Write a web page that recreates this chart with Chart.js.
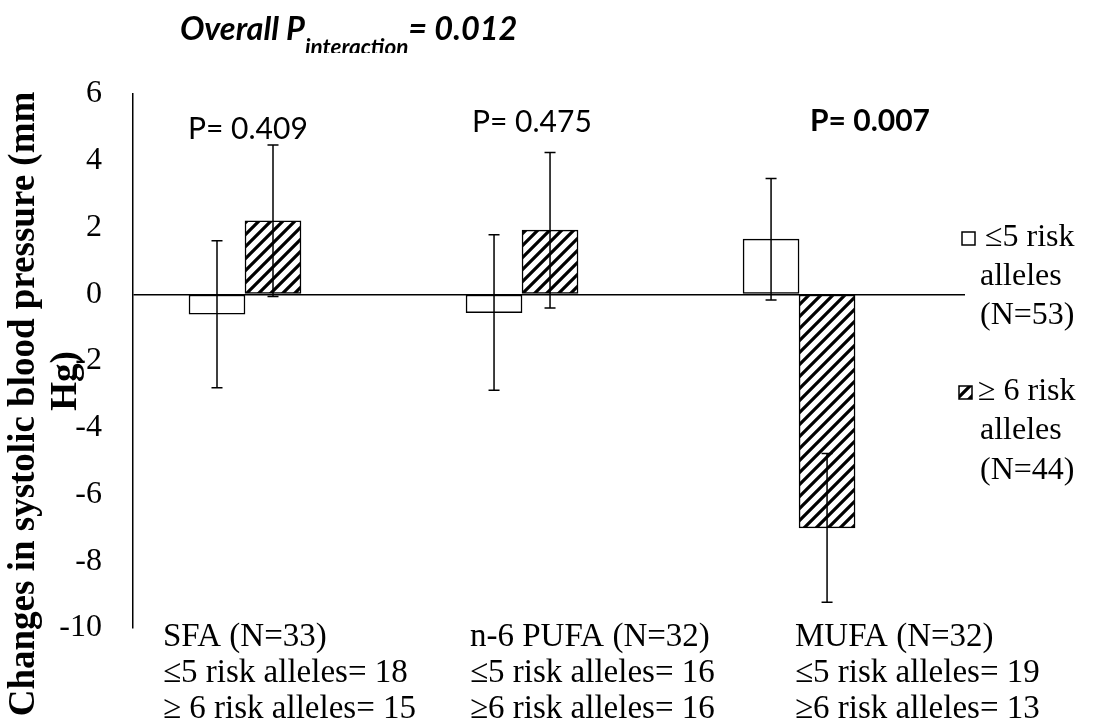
<!DOCTYPE html>
<html><head><meta charset="utf-8">
<script src="https://cdn.jsdelivr.net/npm/chart.js@4.4.1/dist/chart.umd.min.js"></script>
<style>html,body{margin:0;padding:0;background:#fff;overflow:hidden}#wrap{width:1097px;height:724px;position:relative}</style>
</head><body><div id="wrap"><canvas id="c" width="1097" height="724"></canvas></div>
<script>
// ---- data ----
const categories = ['SFA (N=33)', 'n-6 PUFA (N=32)', 'MUFA (N=32)'];
const subLabelsLow = ['≤5 risk alleles= 18', '≤5 risk alleles= 16', '≤5 risk alleles= 19'];
const subLabelsHigh = ['≥ 6 risk alleles= 15', '≥6 risk alleles= 16', '≥6 risk alleles= 13'];
const lowRisk = [-0.6, -0.55, 1.65];
const lowRiskErr = [2.2, 2.33, 1.82];
const highRisk = [2.2, 1.92, -7.0];
const highRiskErr = [2.27, 2.33, 2.23];
const pValues = ['P= 0.409', 'P= 0.475', 'P= 0.007'];
const pBold = [false, false, true];
const yTicks = [6, 4, 2, 0, -2, -4, -6, -8, -10];
const legendLow = ['≤5 risk', 'alleles', '(N=53)'];
const legendHigh = ['≥ 6 risk', 'alleles', '(N=44)'];
const yTitleLines = ['Changes in systolic blood pressure (mm', 'Hg)'];
const titleMain = 'Overall P', titleSub = 'interaction', titleEnd = '= 0.012';

const SERIF = '"Liberation Serif", "Times New Roman", serif';
const SANS = 'Lato, "Liberation Sans", sans-serif';

function makePattern(ctx) {
  const pc = document.createElement('canvas');
  pc.width = 12; pc.height = 12;
  const p = pc.getContext('2d');
  p.fillStyle = '#fff'; p.fillRect(0, 0, 12, 12);
  p.strokeStyle = '#000'; p.lineWidth = 3.2;
  p.beginPath();
  p.moveTo(-2, 14); p.lineTo(14, -2);
  p.moveTo(-2, 2); p.lineTo(2, -2);
  p.moveTo(10, 14); p.lineTo(14, 10);
  p.stroke();
  return ctx.createPattern(pc, 'repeat');
}

const errorBars = {
  id: 'errorBars',
  afterDatasetsDraw(chart) {
    const ctx = chart.ctx, ys = chart.scales.y;
    const errs = [lowRiskErr, highRiskErr];
    const vals = [lowRisk, highRisk];
    ctx.save();
    ctx.strokeStyle = '#000'; ctx.lineWidth = 1.5;
    chart.data.datasets.forEach((ds, di) => {
      const meta = chart.getDatasetMeta(di);
      meta.data.forEach((bar, i) => {
        const v = vals[di][i], e = errs[di][i];
        const yt = ys.getPixelForValue(v + e), yb = ys.getPixelForValue(v - e);
        ctx.beginPath();
        ctx.moveTo(bar.x, yt); ctx.lineTo(bar.x, yb);
        ctx.moveTo(bar.x - 5.5, yt); ctx.lineTo(bar.x + 5.5, yt);
        ctx.moveTo(bar.x - 5.5, yb); ctx.lineTo(bar.x + 5.5, yb);
        ctx.stroke();
      });
    });
    ctx.restore();
  }
};

const annotations = {
  id: 'annotations',
  afterDraw(chart) {
    const ctx = chart.ctx;
    ctx.save();
    ctx.fillStyle = '#000';
    // title
    ctx.textBaseline = 'alphabetic'; ctx.textAlign = 'left';
    let x = 180;
    ctx.font = 'italic bold 32.5px ' + SANS;
    ctx.fillText(titleMain, x, 40); x += ctx.measureText(titleMain).width;
    ctx.save();
    ctx.beginPath(); ctx.rect(0, 0, 1097, 53); ctx.clip();
    ctx.font = 'italic bold 22.5px ' + SANS;
    ctx.fillText(titleSub, x, 55); x += ctx.measureText(titleSub).width;
    ctx.restore();
    ctx.font = 'italic bold 32.5px ' + SANS;
    ctx.fillText(titleEnd, x, 40);
    // p values
    const px = [188, 472, 810], py = [139, 132, 131];
    pValues.forEach((t, i) => {
      ctx.font = (pBold[i] ? 'bold ' : '') + '30px ' + SANS;
      ctx.fillText(t, px[i], py[i]);
    });
    // x labels
    ctx.font = '33px ' + SERIF;
    ctx.textBaseline = 'middle';
    const lx = [163, 470, 795];
    categories.forEach((c, i) => {
      ctx.fillText(c, lx[i], 637);
      ctx.fillText(subLabelsLow[i], lx[i], 673);
      ctx.fillText(subLabelsHigh[i], lx[i], 709);
    });
    // legend
    ctx.font = '32px ' + SERIF;
    const pat = makePattern(ctx);
    ctx.lineWidth = 1.5; ctx.strokeStyle = '#000';
    ctx.fillStyle = '#fff';
    ctx.fillRect(962, 232, 13, 13); ctx.strokeRect(962, 232, 13, 13);
    ctx.fillStyle = pat;
    ctx.fillRect(959, 386, 13, 13); ctx.strokeRect(959, 386, 13, 13);
    ctx.fillStyle = '#000';
    const ly1 = [238, 277, 316], ly2 = [392, 431, 471];
    legendLow.forEach((t, i) => ctx.fillText(t, i === 0 ? 985 : 980, ly1[i]));
    legendHigh.forEach((t, i) => ctx.fillText(t, i === 0 ? 978 : 980, ly2[i]));
    // y title
    ctx.font = 'bold 37px ' + SERIF;
    ctx.textAlign = 'center';
    ctx.save(); ctx.translate(24, 404); ctx.rotate(-Math.PI / 2);
    ctx.fillText(yTitleLines[0], 0, 0); ctx.restore();
    ctx.save(); ctx.translate(66, 381); ctx.rotate(-Math.PI / 2);
    ctx.fillText(yTitleLines[1], 0, 0); ctx.restore();
    ctx.restore();
  }
};

function build() {
  const canvas = document.getElementById('c');
  const ctx = canvas.getContext('2d');
  const pattern = makePattern(ctx);
  new Chart(canvas, {
    type: 'bar',
    data: {
      datasets: [
        { label: legendLow.join(' '), data: lowRisk.map((v, i) => ({ x: i, y: v })),
          backgroundColor: '#fff', borderColor: '#000', borderWidth: 1.5, borderSkipped: false },
        { label: legendHigh.join(' '), data: highRisk.map((v, i) => ({ x: i, y: v })),
          backgroundColor: pattern, borderColor: '#000', borderWidth: 1.5, borderSkipped: false }
      ]
    },
    options: {
      responsive: false, animation: false, devicePixelRatio: 1,
      barThickness: 56,
      layout: { padding: { top: 94, bottom: 96, left: 0, right: 132 } },
      plugins: { legend: { display: false }, tooltip: { enabled: false }, title: { display: false } },
      scales: {
        x: { type: 'linear', offset: false, min: -0.4043, max: 2.599, display: false },
        y: {
          min: -10, max: 6,
          afterFit: s => { s.width = 133; },
          afterBuildTicks: s => { s.ticks = yTicks.slice().reverse().map(v => ({ value: v })); },
          ticks: { stepSize: 2, color: '#000', padding: 31, font: { family: SERIF, size: 32 } },
          grid: { drawTicks: false, lineWidth: 1.5,
                  color: c => (c.tick && c.tick.value === 0) ? '#000' : 'rgba(0,0,0,0)' },
          border: { display: true, color: '#000', width: 1.5 }
        }
      }
    },
    plugins: [errorBars, annotations]
  });
}
const fontsToLoad = ['32px "Liberation Serif"', 'bold 37px "Liberation Serif"', '30px Lato', 'bold 30px Lato', 'italic bold 30px Lato'];
Promise.race([
  Promise.all(fontsToLoad.map(f => document.fonts.load(f))),
  new Promise(r => setTimeout(r, 1500))
]).then(build, build);
</script></body></html>
